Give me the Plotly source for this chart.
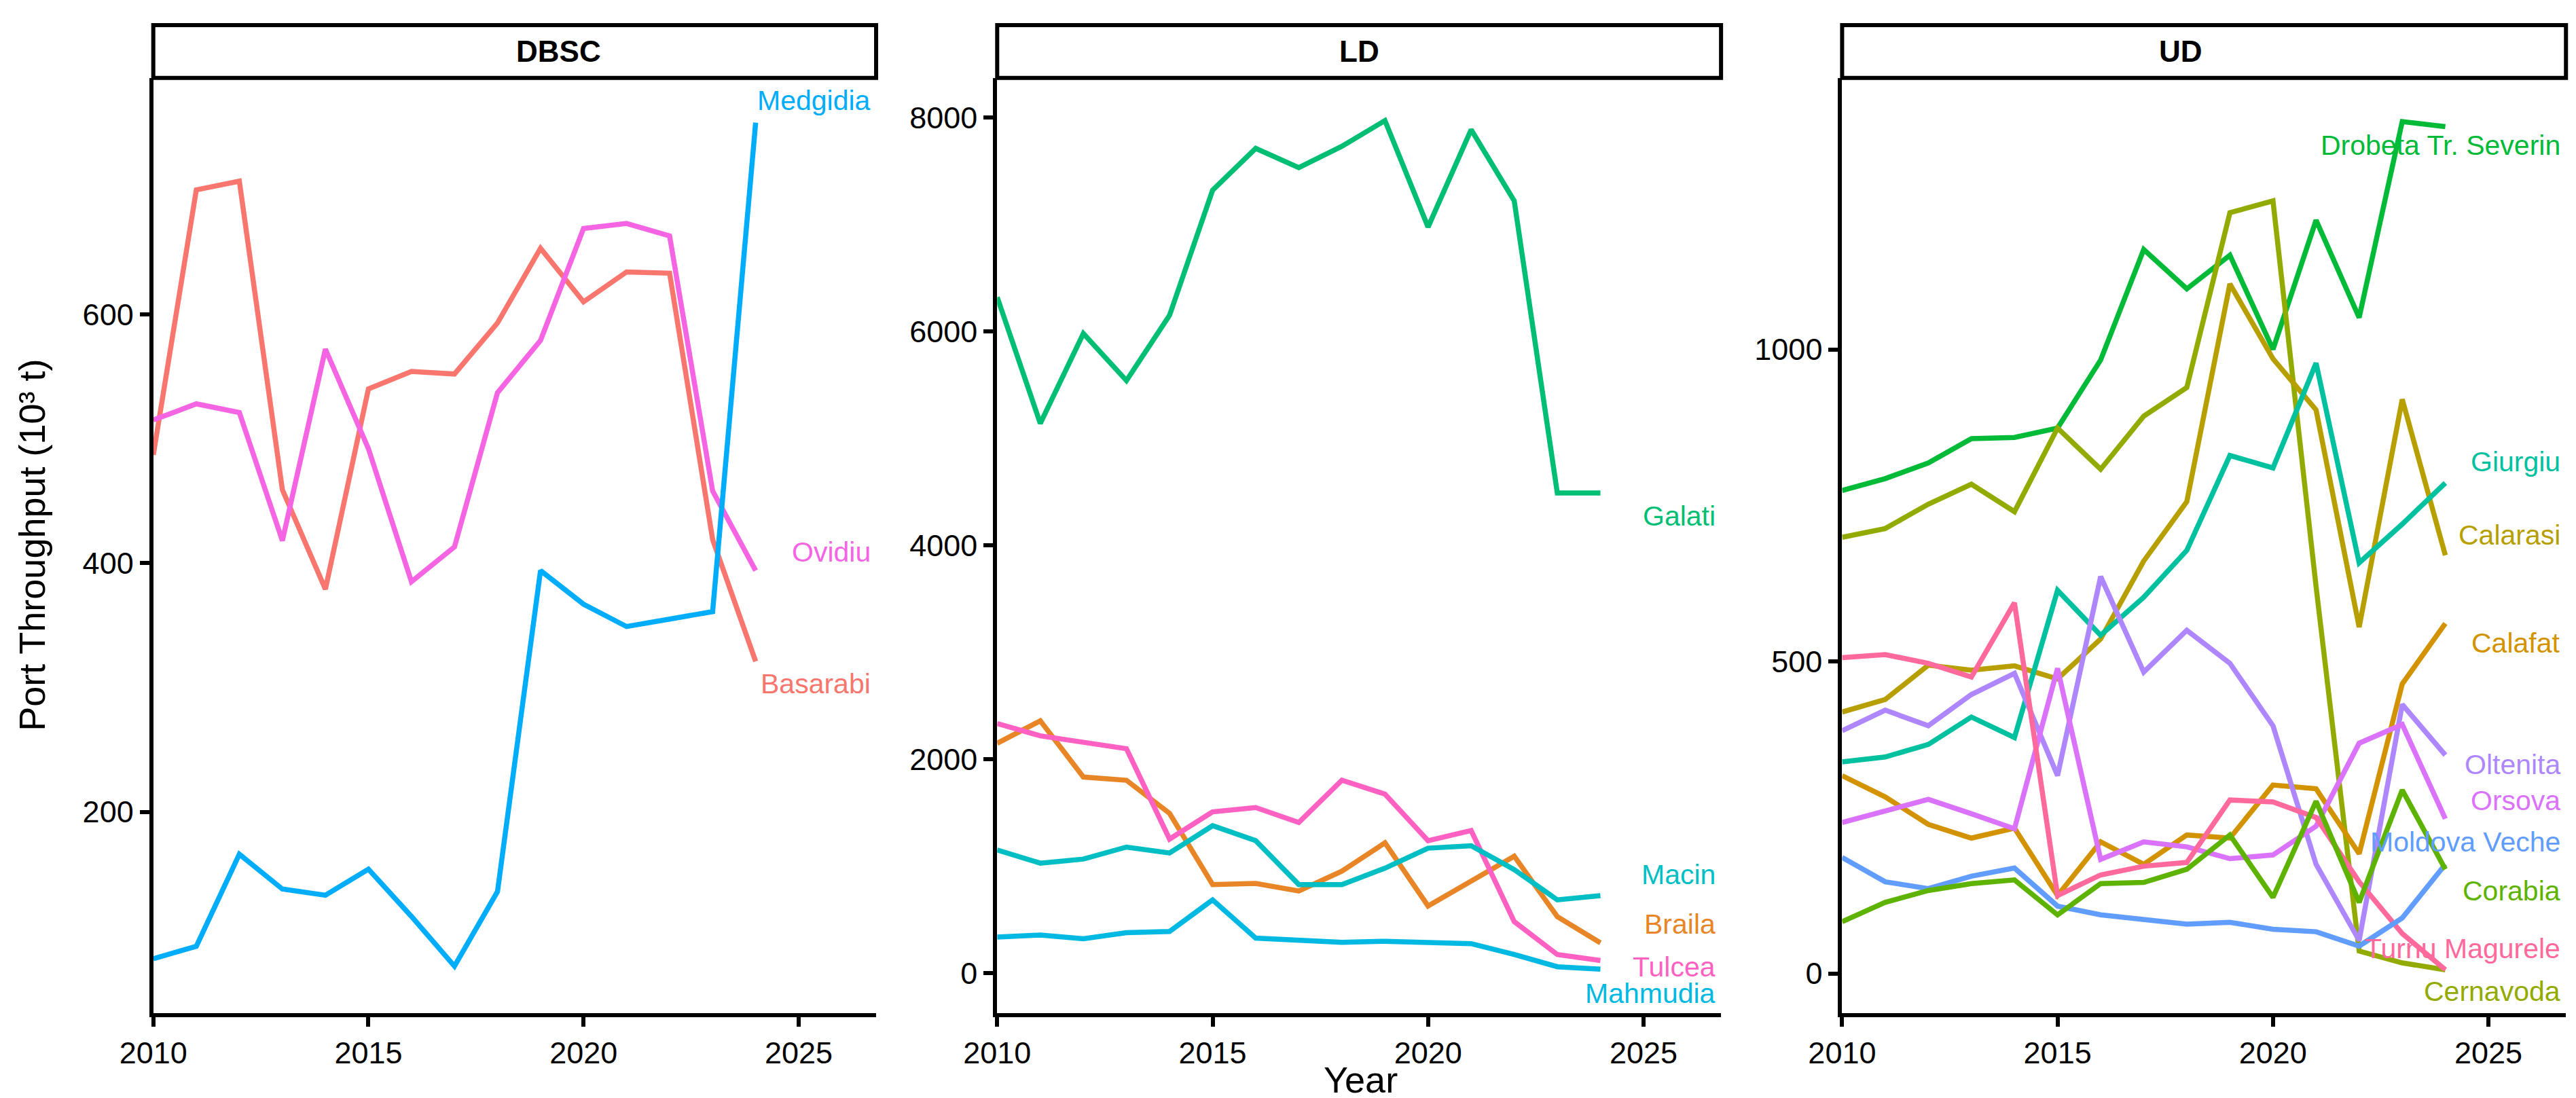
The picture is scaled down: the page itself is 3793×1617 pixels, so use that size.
import math
import plotly.graph_objects as go

years = list(range(2010, 2025))

# DBSC ports
basarabi = [487, 700, 707, 459, 379, 540, 554, 552, 593, 653, 610, 634, 633, 419, 321]
ovidiu = [515, 528, 521, 418, 572, 492, 385, 413, 537, 579, 669, 673, 663, 458, 394]
medgidia = [82, 92, 166, 138, 133, 154, 116, 76, 136, 394, 367, 349, 355, 361, 754]

# LD ports
galati = [6320, 5140, 5980, 5540, 6150, 7320, 7710, 7530, 7730, 7970, 6975, 7885, 7220, 4490, 4490]
braila = [2150, 2360, 1835, 1805, 1495, 830, 840, 770, 955, 1220, 630, 860, 1095, 530, 285]
tulcea = [2335, 2220, 2160, 2100, 1255, 1510, 1550, 1410, 1805, 1675, 1240, 1335, 483, 176, 120]
macin = [1153, 1030, 1068, 1180, 1125, 1380, 1240, 830, 830, 983, 1170, 1193, 970, 687, 727]
mahmudia = [340, 358, 324, 380, 392, 687, 330, 312, 290, 300, 290, 278, 176, 62, 40]

# UD ports
drobeta = [774, 793, 818, 857, 859, 874, 983, 1160, 1097, 1151, 1000, 1207, 1051, 1365, 1357]
cernavoda = [699, 713, 752, 784, 740, 874, 808, 893, 939, 1219, 1238, 620, 36, 17, 6]
calarasi = [419, 439, 494, 486, 493, 472, 536, 661, 756, 1105, 985, 903, 555, 920, 670]
giurgiu = [339, 347, 367, 411, 378, 614, 542, 603, 678, 830, 810, 978, 658, 720, 786]
calafat = [317, 283, 239, 217, 233, 125, 211, 175, 222, 217, 302, 296, 192, 464, 561]
oltenita = [389, 422, 397, 447, 481, 317, 636, 483, 550, 497, 397, 175, 53, 431, 350]
orsova = [242, 261, 279, 256, 232, 489, 183, 211, 203, 184, 190, 236, 369, 399, 248]
turnu = [506, 511, 497, 475, 594, 125, 158, 172, 178, 278, 275, 250, 147, 64, 6]
moldova = [186, 147, 136, 156, 169, 108, 94, 86, 79, 82, 71, 67, 44, 89, 175]
corabia = [83, 114, 133, 144, 150, 94, 144, 146, 167, 222, 122, 276, 114, 294, 167]

all_ports = ["Basarabi", "Braila", "Calafat", "Calarasi", "Cernavoda", "Corabia",
             "Drobeta Tr. Severin", "Galati", "Giurgiu", "Macin", "Mahmudia", "Medgidia",
             "Moldova Veche", "Oltenita", "Orsova", "Ovidiu", "Tulcea", "Turnu Magurele"]

panels = [
    ("DBSC", [("Basarabi", basarabi, 303), ("Ovidiu", ovidiu, 409), ("Medgidia", medgidia, 772)],
     [38.5, 790], [200, 400, 600]),
    ("LD", [("Galati", galati, 4277), ("Braila", braila, 462), ("Tulcea", tulcea, 62),
            ("Macin", macin, 923), ("Mahmudia", mahmudia, -185)],
     [-369, 8369], [0, 2000, 4000, 6000, 8000]),
    ("UD", [("Drobeta Tr. Severin", drobeta, 1327), ("Cernavoda", cernavoda, -29),
            ("Calarasi", calarasi, 702), ("Giurgiu", giurgiu, 820), ("Calafat", calafat, 530),
            ("Oltenita", oltenita, 335), ("Orsova", orsova, 277), ("Turnu Magurele", turnu, 40),
            ("Moldova Veche", moldova, 211), ("Corabia", corabia, 132)],
     [-63, 1435], [0, 500, 1000]),
]


def hcl_hex(h, c=100, l=65):
    # ggplot2 default hue palette colour (polar Luv)
    u = c * math.cos(math.radians(h))
    v = c * math.sin(math.radians(h))
    xn, yn, zn = 95.047, 100.0, 108.883
    un = 4 * xn / (xn + 15 * yn + 3 * zn)
    vn = 9 * yn / (xn + 15 * yn + 3 * zn)
    y = yn * ((l + 16) / 116) ** 3
    up = u / (13 * l) + un
    vp = v / (13 * l) + vn
    x = 9 * y * up / (4 * vp)
    z = y * (12 - 3 * up - 20 * vp) / (4 * vp)
    x, y, z = x / 100, y / 100, z / 100
    r = 3.2406 * x - 1.5372 * y - 0.4986 * z
    g = -0.9689 * x + 1.8758 * y + 0.0415 * z
    b = 0.0557 * x - 0.2040 * y + 1.0570 * z
    out = []
    for ch in (r, g, b):
        ch = 12.92 * ch if ch <= 0.0031308 else 1.055 * ch ** (1 / 2.4) - 0.055
        out.append(max(0, min(255, round(ch * 255))))
    return "#%02X%02X%02X" % tuple(out)


colors = {name: hcl_hex(15 + 20 * i) for i, name in enumerate(all_ports)}

font = "Liberation Sans, Arial, sans-serif"
domains = [(0.0574, 0.338), (0.385, 0.666), (0.713, 0.994)]
ydom = (0.0825, 0.934)

fig = go.Figure()
for i, (pname, series, yr, yt) in enumerate(panels):
    ax = "" if i == 0 else str(i + 1)
    for name, vals, ly in series:
        col = colors[name]
        fig.add_trace(go.Scatter(x=years, y=vals, mode="lines", name=name,
                                 line=dict(color=col, width=7.5),
                                 xaxis="x" + ax, yaxis="y" + ax, showlegend=False))
        fig.add_annotation(x=2026.7, y=ly, xref="x" + ax, yref="y" + ax, text=name,
                           showarrow=False, xanchor="right", yanchor="middle",
                           font=dict(color=col, size=41, family=font))
    axis_style = dict(showline=True, linecolor="black", linewidth=6, ticks="outside",
                      ticklen=14, tickwidth=6, tickcolor="black", showgrid=False,
                      zeroline=False, automargin=False,
                      tickfont=dict(size=45, color="black", family=font))
    fig.layout["xaxis" + ax] = dict(domain=domains[i], range=[2010, 2026.8],
                                    tickvals=[2010, 2015, 2020, 2025],
                                    anchor="y" + ax, **axis_style)
    fig.layout["yaxis" + ax] = dict(domain=ydom, range=yr, tickvals=yt,
                                    anchor="x" + ax, **axis_style)
    # facet strip
    fig.add_shape(type="rect", xref="paper", yref="paper", x0=domains[i][0], x1=domains[i][1],
                  y0=0.934, y1=0.982, line=dict(color="black", width=6), fillcolor="white")
    fig.add_annotation(x=sum(domains[i]) / 2, y=0.958, xref="paper", yref="paper",
                       text="<b>" + pname + "</b>", showarrow=False, yanchor="middle",
                       font=dict(size=44, color="black", family=font))

fig.add_annotation(x=0.526, y=0.002, xref="paper", yref="paper", text="Year",
                   showarrow=False, yanchor="bottom", font=dict(size=54, color="black", family=font))
fig.add_annotation(x=0.002, y=ydom[0] + (ydom[1] - ydom[0]) / 2, xref="paper", yref="paper",
                   text="Port Throughput (10³ t)", textangle=-90, showarrow=False,
                   xanchor="left", font=dict(size=54, color="black", family=font))

fig.update_layout(width=3793, height=1617, plot_bgcolor="white", paper_bgcolor="white",
                  margin=dict(l=0, r=0, t=0, b=0, autoexpand=False))

fig.write_html("out.html")
